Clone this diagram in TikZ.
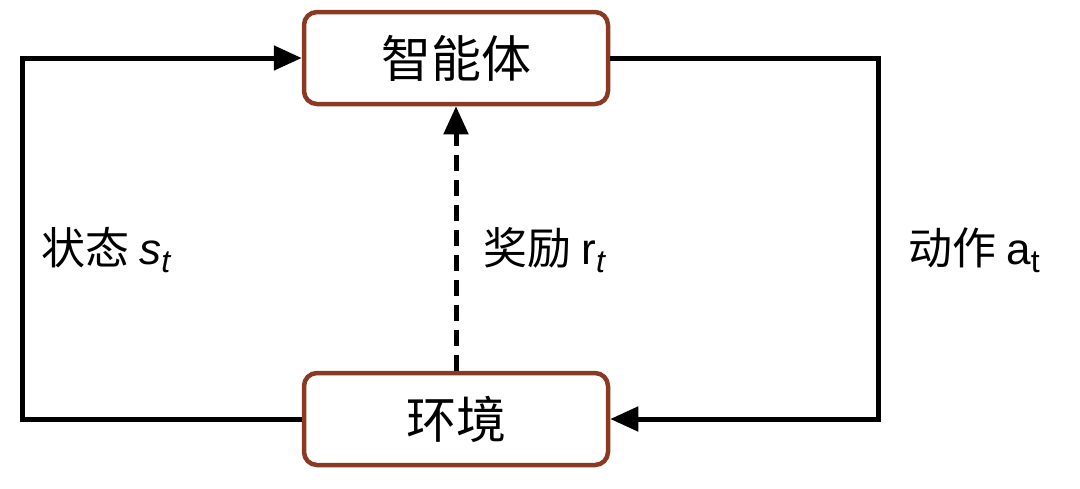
\documentclass[tikz,border=0pt]{standalone}
\usepackage{fontspec}
\setmainfont{Noto Sans CJK SC}
\newfontfamily\lat{Liberation Sans}
\usetikzlibrary{arrows.meta}
\definecolor{bord}{HTML}{8A3A22}
\begin{document}
\begin{tikzpicture}[x=1pt,y=-1pt,
  box/.style={draw=bord,line width=4.5pt,rounded corners=13pt,fill=white,minimum width=304pt,minimum height=92pt,font=\fontsize{50}{54}\selectfont},
  conn/.style={line width=5pt,-{Triangle[length=28pt,width=24pt]}},
  lab/.style={font=\fontsize{44}{48}\selectfont,anchor=west}]
\useasboundingbox (0,0) rectangle (1080,488);
\node[box] (ag) at (456,58) {智能体};
\node[box] (env) at (456,419) {环境};
\coordinate (l1) at (22,419);
\coordinate (l2) at (22,58);
\coordinate (r1) at (878,58);
\coordinate (r2) at (878,419);
\draw[conn] (env.west) -- (l1) -- (l2) -- (ag.west);
\draw[conn] (ag.east) -- (r1) -- (r2) -- (env.east);
\draw[conn,dash pattern=on 16pt off 9pt] (env.north) -- (ag.south);
\node[lab] (ls) at (38,250) {状态 {\lat\itshape s\raisebox{-8pt}{\fontsize{32}{34}\selectfont t}}};
\node[lab] (lr) at (480,250) {奖励 {\lat r\raisebox{-8pt}{\fontsize{32}{34}\selectfont\itshape t}}};
\node[lab] (la) at (905,250) {动作 {\lat a\raisebox{-8pt}{\fontsize{32}{34}\selectfont t}}};
\end{tikzpicture}
\end{document}
